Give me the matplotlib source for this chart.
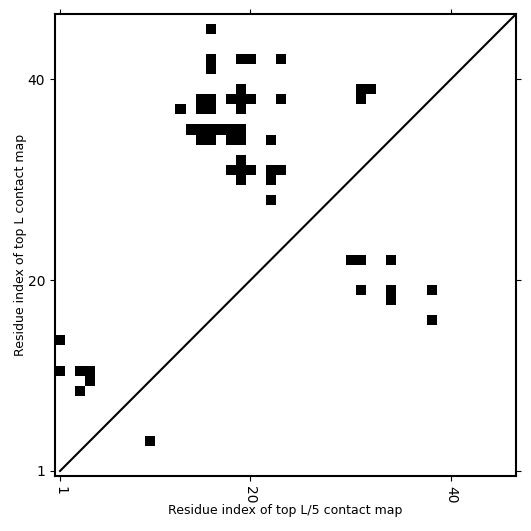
import numpy as np
import matplotlib
matplotlib.use("Agg")
import matplotlib.pyplot as plt

L = 46
# contact cells: x = residue index (top L/5), y = residue index (top L)
xs = [16, 16, 16, 19, 20, 23,
      19, 18, 19, 20, 15, 16, 15, 16, 23, 19, 13,
      14, 15, 16, 17, 18, 19, 15, 16, 18, 19, 22,
      19, 18, 19, 20, 22, 23, 19, 22, 22,
      31, 32, 31,
      30, 31, 34, 31, 38, 34, 34, 38,
      1, 1, 3, 4, 4, 3, 10]
ys = [45, 42, 41, 42, 42, 42,
      39, 38, 38, 38, 38, 38, 37, 37, 38, 37, 37,
      35, 35, 35, 35, 35, 35, 34, 34, 34, 34, 34,
      32, 31, 31, 31, 31, 31, 30, 30, 28,
      39, 39, 38,
      22, 22, 22, 19, 19, 19, 18, 16,
      14, 11, 11, 11, 10, 9, 4]
ticks = [1, 20, 40]

cmap = np.zeros((L, L))
for x, y in zip(xs, ys):
    cmap[y - 1, x - 1] = 1

fig = plt.figure(figsize=(5.31, 5.31), dpi=100)
ax = fig.add_axes([0.1036, 0.1036, 0.8682, 0.87])
ax.imshow(cmap, cmap='Greys', origin='lower', interpolation='nearest',
          extent=(0.5, L + 0.5, 0.5, L + 0.5), aspect='auto', vmin=0, vmax=1)
ax.plot([1, L + 1], [1, L + 1], color='black', lw=1.5)
ax.set_xlim(0.5, L + 0.5)
ax.set_ylim(0.5, L + 0.5)
ax.set_xticks(ticks)
ax.set_yticks(ticks)
ax.set_xticklabels([str(t) for t in ticks], rotation=-90)
ax.tick_params(top=True, right=True, labelsize=10)
for s in ax.spines.values():
    s.set_linewidth(1.5)
ax.set_xlabel('Residue index of top L/5 contact map', fontsize=9, labelpad=0.5)
ax.set_ylabel('Residue index of top L contact map', fontsize=9, labelpad=0.5)
fig.savefig('out.png', dpi=100)
